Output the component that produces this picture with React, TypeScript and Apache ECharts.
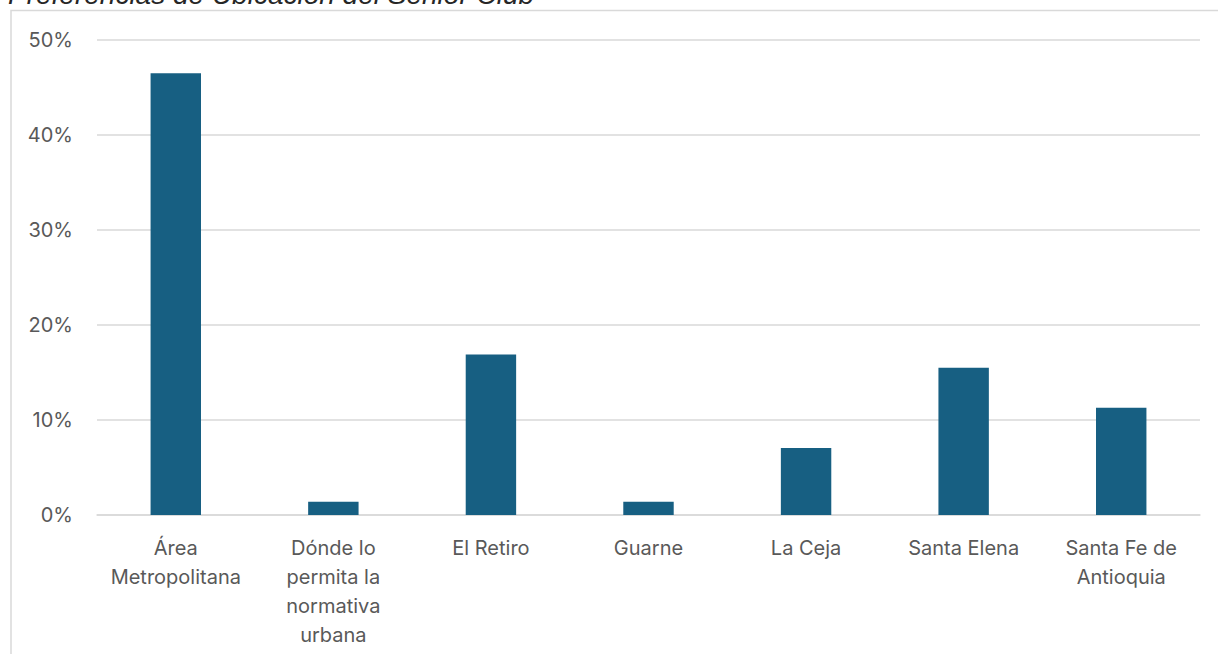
import React, { useEffect, useRef } from "react";
import * as echarts from "echarts";

const titleText = "Preferencias de Ubicación del Senior Club";
const categories = [
  "Área Metropolitana",
  "Dónde lo permita la normativa urbana",
  "El Retiro",
  "Guarne",
  "La Ceja",
  "Santa Elena",
  "Santa Fe de Antioquia",
];
const categoryLabels = [
  "Área\nMetropolitana",
  "Dónde lo\npermita la\nnormativa\nurbana",
  "El Retiro",
  "Guarne",
  "La Ceja",
  "Santa Elena",
  "Santa Fe de\nAntioquia",
];
const values = [0.465, 0.014, 0.169, 0.014, 0.0704, 0.155, 0.113];
const yTicks = [0, 0.1, 0.2, 0.3, 0.4, 0.5];

export default function App() {
  const ref = useRef<HTMLDivElement>(null);
  useEffect(() => {
    if (!ref.current) return;
    const chart = echarts.init(ref.current, null, { renderer: "svg" });
    const labelFont = "Inter, 'Open Sans', sans-serif";
    chart.setOption({
      animation: false,
      backgroundColor: "#ffffff",
      graphic: [
        {
          type: "rect",
          shape: { x: 11, y: 10.5, width: 1400, height: 800 },
          style: { fill: "none", stroke: "#d9d9d9", lineWidth: 1.5 },
          silent: true,
          z: -1,
        },
        {
          type: "text",
          x: 8,
          y: -6,
          style: {
            text: titleText,
            font: "italic 28px 'Liberation Sans', Arial, sans-serif",
            fill: "#262626",
            textAlign: "left",
            textVerticalAlign: "middle",
          },
        },
      ],
      grid: { left: 97, right: 18, top: 40, bottom: 139, containLabel: false },
      xAxis: {
        type: "category",
        data: categories,
        axisLine: { show: true, lineStyle: { color: "#d9d9d9", width: 1.5 } },
        axisTick: { show: false },
        axisLabel: {
          interval: 0,
          margin: 18,
          color: "#595959",
          fontSize: 20,
          fontFamily: labelFont,
          lineHeight: 29,
          formatter: (_v: string, i: number) => categoryLabels[i],
        },
      },
      yAxis: {
        type: "value",
        min: yTicks[0],
        max: yTicks[yTicks.length - 1],
        interval: 0.1,
        axisLine: { show: false },
        axisTick: { show: false },
        splitLine: { lineStyle: { color: "#d9d9d9", width: 1.5 } },
        axisLabel: {
          margin: 24,
          color: "#595959",
          fontSize: 20,
          fontFamily: labelFont,
          formatter: (v: number) => Math.round(v * 100) + "%",
        },
      },
      series: [
        {
          type: "bar",
          data: values,
          barWidth: "32%",
          itemStyle: { color: "#175f82" },
        },
      ],
    });
    return () => chart.dispose();
  }, []);
  return (
    <div
      ref={ref}
      style={{ position: "fixed", left: 0, top: 0, width: 1218, height: 654 }}
    />
  );
}
